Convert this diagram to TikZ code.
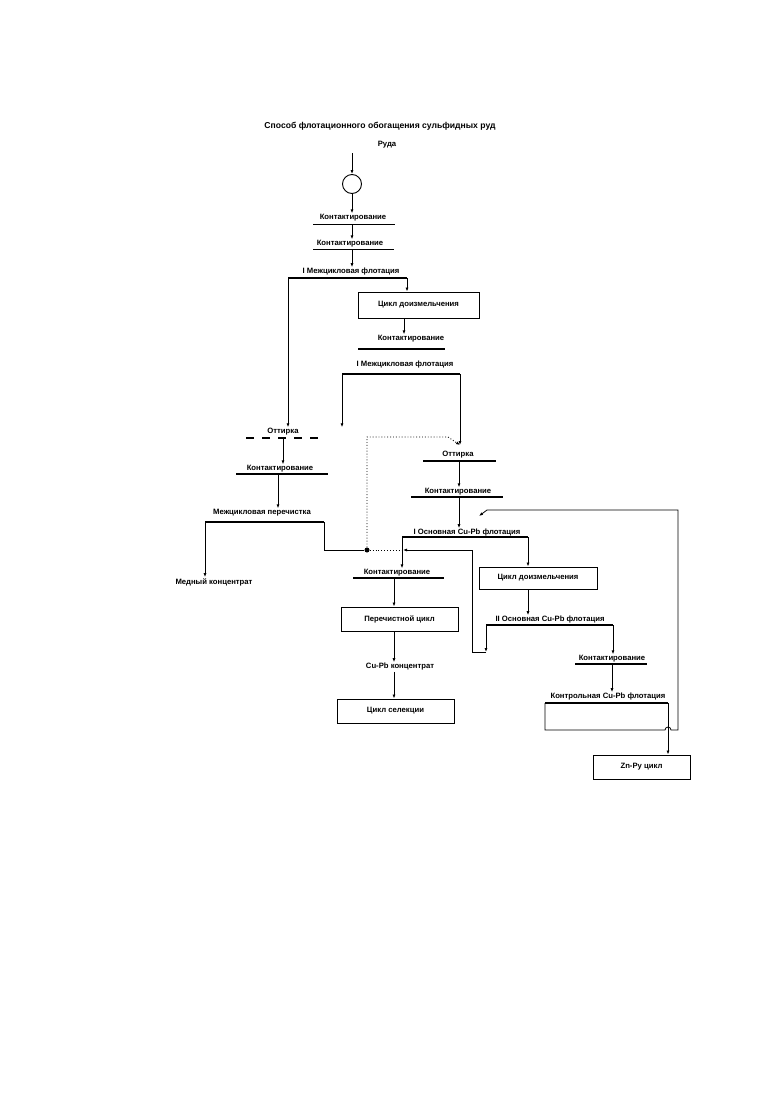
\documentclass[tikz,border=0pt]{standalone}
\usepackage{fontspec}
\setmainfont{Liberation Sans}
\usetikzlibrary{arrows.meta,positioning}

\begin{document}
\begin{tikzpicture}[
    x=1pt, y=-1pt,
    font=\fontsize{7.7}{9}\selectfont\bfseries,
    >=Latex,
    lbl/.style={inner sep=1pt},
    bar/.style={line width=1pt},
    hbar/.style={line width=2.2pt},
    box/.style={draw, line width=0.9pt, inner sep=2pt},
    flow/.style={line width=0.8pt, -{Latex[length=4pt,width=3pt]}},
    link/.style={line width=0.8pt},
    recy/.style={line width=0.9pt, dotted}
  ]
    \useasboundingbox (0,0) rectangle (780,1103);

    \node[lbl, font=\fontsize{8.6}{10}\selectfont\bfseries] (title) at (380,126) {Способ флотационного обогащения сульфидных руд};
    \node[lbl] (ore) at (387,145) {Руда};
    \node[circle, draw, line width=0.9pt, minimum size=19pt, inner sep=0pt] (mill) at (352,184) {};

    \node[lbl] (k1) at (353,218) {Контактирование};
    \node[lbl] (k2) at (350,244) {Контактирование};
    \node[lbl] (mf1) at (351,272) {I Межцикловая флотация};
    \node[box, minimum width=121pt, minimum height=26pt] (dz1) at (418.5,305) {Цикл доизмельчения};
    \node[lbl] (k3) at (411,339) {Контактирование};
    \node[lbl] (mf2) at (405,365) {I Межцикловая флотация};
    \node[lbl] (ot1) at (283,432) {Оттирка};
    \node[lbl] (k4) at (280,469) {Контактирование};
    \node[lbl] (mp) at (262,513) {Межцикловая перечистка};
    \node[lbl] (cu) at (214,582) {Медный концентрат};
    \node[lbl] (ot2) at (458,455) {Оттирка};
    \node[lbl] (k5) at (458,492) {Контактирование};
    \node[lbl] (of1) at (467,533) {I Основная Cu-Pb флотация};
    \node[lbl] (k6) at (397,573) {Контактирование};
    \node[box, minimum width=117pt, minimum height=24pt] (pc) at (399.5,619) {Перечистной цикл};
    \node[lbl] (cpb) at (400,667) {Cu-Pb концентрат};
    \node[box, minimum width=117pt, minimum height=24pt] (sel) at (395.5,711) {Цикл селекции};
    \node[box, minimum width=118pt, minimum height=22pt] (dz2) at (538,578) {Цикл доизмельчения};
    \node[lbl] (of2) at (550,620) {II Основная Cu-Pb флотация};
    \node[lbl] (k7) at (612,659) {Контактирование};
    \node[lbl] (kf) at (608,697) {Контрольная Cu-Pb флотация};
    \node[box, minimum width=97pt, minimum height=24pt] (zn) at (641.5,767) {Zn-Py цикл};
    \node[circle, fill, inner sep=0pt, minimum size=5pt] (jn) at (367,550) {};

    \coordinate (feed) at (352,153);
    \coordinate (k1o) at (352,224);
    \coordinate (k2o) at (352,249);
    \coordinate (mf1L) at (288,278);
    \coordinate (mf1R) at (407,278);
    \coordinate (dz1o) at (404,318);
    \coordinate (mf2L) at (342,374);
    \coordinate (mf2R) at (460,374);
    \coordinate (ot1o) at (283,438);
    \coordinate (k4o) at (278,474);
    \coordinate (mpL) at (205,522);
    \coordinate (mpR) at (324,522);
    \coordinate (jt) at (448,437);
    \coordinate (ot2in) at (460,445);
    \coordinate (ot2o) at (459,461);
    \coordinate (k5o) at (459,497);
    \coordinate (of1L) at (402,537);
    \coordinate (of1R) at (528,537);
    \coordinate (of1j) at (402,550);
    \coordinate (k6o) at (394,578);
    \coordinate (of2L) at (486,625);
    \coordinate (of2R) at (613,625);
    \coordinate (of2d) at (486,652);
    \coordinate (rc) at (472,652);
    \coordinate (k7o) at (612,664);
    \coordinate (kfL) at (545,703);
    \coordinate (kfR) at (668,703);
    \coordinate (hop) at (665,730);
    \coordinate (rb) at (678,730);
    \coordinate (rt) at (678,510);
    \coordinate (rl) at (487,510);
    \coordinate (of1in) at (479,516);

    \draw[bar] (313,224) -- (395,224);
    \draw[bar] (313,249) -- (394,249);
    \draw[hbar, line width=1.8pt] (mf1L) -- (mf1R);
    \draw[hbar] (358,349) -- (445,349);
    \draw[hbar, line width=1.8pt] (mf2L) -- (mf2R);
    \draw[hbar, line width=2.6pt, dash pattern=on 8pt off 8pt] (246,438) -- (319,438);
    \draw[hbar, line width=2.6pt] (236,474) -- (328,474);
    \draw[bar, line width=1.4pt] (mpL) -- (mpR);
    \draw[hbar] (423,461) -- (496,461);
    \draw[hbar] (411,497) -- (503,497);
    \draw[bar, line width=1.4pt] (of1L) -- (of1R);
    \draw[hbar] (353,578) -- (444,578);
    \draw[hbar] (of2L) -- (of2R);
    \draw[hbar] (575,664) -- (647,664);
    \draw[hbar] (kfL) -- (kfR);

    \draw[flow] (feed) -- (mill.north);
    \draw[flow] (mill.south) -- (mill.south |- k1.north);
    \draw[flow] (k1o) -- (k1o |- k2.north);
    \draw[flow] (k2o) -- (k2o |- mf1.north);
    \draw[flow] (mf1R) -- (mf1R |- dz1.north);
    \draw[flow] (mf1L) -- (mf1L |- ot1.north);
    \draw[flow] (dz1o) -- (dz1o |- k3.north);
    \draw[flow] (mf2L) -- (mf2L |- ot1.north);
    \draw[flow] (mf2R) -- (ot2in);
    \draw[flow] (ot1o) -- (ot1o |- k4.north);
    \draw[flow] (k4o) -- (k4o |- mp.north);
    \draw[flow] (mpL) -- (mpL |- cu.north);
    \draw[link] (mpR) |- (jn);
    \draw[recy, -{Latex[length=4pt,width=3pt]}] (jn) |- (jt) -- (ot2in);
    \draw[recy] (jn) -- (of1j);
    \draw[flow] (ot2o) -- (ot2o |- k5.north);
    \draw[flow] (k5o) -- (k5o |- of1.north);
    \draw[flow] (of1L) -- (of1L |- k6.north);
    \draw[flow] (of1R) -- (of1R |- dz2.north);
    \draw[flow] (k6o) -- (k6o |- pc.north);
    \draw[flow] (pc.south -| k6o) -- (cpb.north -| k6o);
    \draw[flow] (cpb.south -| k6o) -- (sel.north -| k6o);
    \draw[flow] (dz2.south -| of1R) -- (of2.north -| of1R);
    \draw[flow] (of2L) -- (of2d);
    \draw[flow] (of2d) -- (rc) |- ([xshift=1pt]of1j);
    \draw[flow] (of2R) -- (of2R |- k7.north);
    \draw[flow] (k7o) -- (k7o |- kf.north);
    \draw[flow] (kfR) -- (kfR |- zn.north);
    \draw[flow] (kfL) |- (hop) arc[start angle=180, end angle=0, radius=3pt] -- (rb) -- (rt) -- (rl) -- (of1in);
  \end{tikzpicture}
\end{document}
